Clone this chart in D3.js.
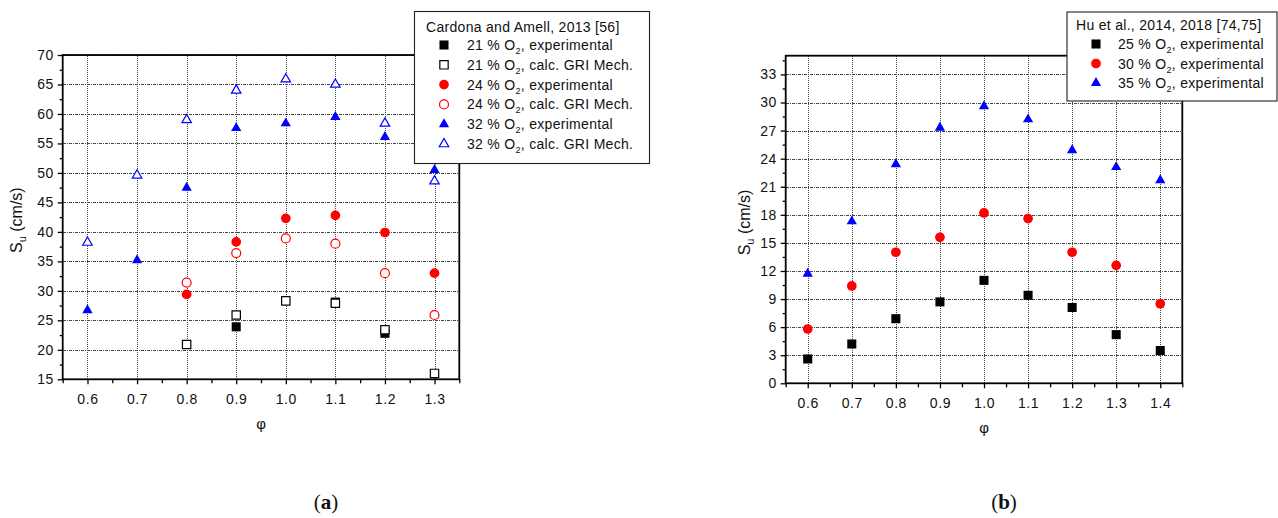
<!DOCTYPE html>
<html>
<head>
<meta charset="utf-8">
<script src="https://cdn.jsdelivr.net/npm/d3@7"></script>
<style>
  html, body { margin: 0; padding: 0; background: #fff; }
  svg { display: block; }
  text { font-family: "Liberation Sans", Arial, sans-serif; fill: #111; }
</style>
</head>
<body>
<svg id="fig" width="1278" height="518"></svg>
<script>
// ---- Panel (a): Cardona and Amell, 2013 ----
const phiA = [0.6, 0.7, 0.8, 0.9, 1.0, 1.1, 1.2, 1.3];
const o21ExpA  = [null, null, null, 23.9, null, 28.1, 22.8, null];
const o21CalcA = [null, null, 20.9, 25.9, 28.3, 27.9, 23.4, 16.0];
const o24ExpA  = [null, null, 29.4, 38.3, 42.3, 42.8, 39.9, 33.0];
const o24CalcA = [null, null, 31.4, 36.4, 38.9, 38.0, 33.0, 25.9];
const o32ExpA  = [26.7, 35.2, 47.5, 57.6, 58.4, 59.5, 56.1, 50.5];
const o32CalcA = [38.2, 49.6, 59.0, 64.0, 65.9, 65.0, 58.4, 48.6];
const legendTitleA = "Cardona and Amell, 2013 [56]";
const legendPctA = ["21", "21", "24", "24", "32", "32"];
const legendTailA = [", experimental", ", calc. GRI Mech.", ", experimental", ", calc. GRI Mech.", ", experimental", ", calc. GRI Mech."];
const yTicksA = [15, 20, 25, 30, 35, 40, 45, 50, 55, 60, 65, 70];

// ---- Panel (b): Hu et al., 2014, 2018 ----
const phiB = [0.6, 0.7, 0.8, 0.9, 1.0, 1.1, 1.2, 1.3, 1.4];
const o25B = [2.6, 4.2, 6.9, 8.7, 11.0, 9.4, 8.1, 5.2, 3.5];
const o30B = [5.8, 10.4, 14.0, 15.6, 18.2, 17.6, 14.0, 12.6, 8.5];
const o35B = [11.7, 17.3, 23.4, 27.3, 29.6, 28.2, 24.9, 23.1, 21.7];
const legendTitleB = "Hu et al., 2014, 2018 [74,75]";
const legendPctB = ["25", "30", "35"];
const legendTailB = [", experimental", ", experimental", ", experimental"];
const yTicksB = [0, 3, 6, 9, 12, 15, 18, 21, 24, 27, 30, 33];

const svg = d3.select("#fig");
const BLUE = "#0000ff", RED = "#ff0000", BLACK = "#000000";

const MARK = {
  sq:  { type: d3.symbolSquare,   size: 82 },
  ci:  { type: d3.symbolCircle,   size: 74 },
  tr:  { type: d3.symbolTriangle, size: 46 }
};
function symbolPath(shape, open) {
  const m = MARK[shape];
  const s = open ? m.size * 0.85 : m.size;
  return d3.symbol().type(m.type).size(s)();
}

// grid line: grey dashes with darker dots between them
function styleGrid(sel, dash) {
  sel.attr("stroke", "#444").attr("stroke-width", 1)
    .attr("stroke-dasharray", dash).attr("shape-rendering", "crispEdges");
}

function drawPanel(cfg) {
  const g = svg.append("g");
  const x = d3.scaleLinear().domain(cfg.xDomain).range([cfg.left, cfg.right]);
  const y = d3.scaleLinear().domain(cfg.yDomain).range([cfg.bottom, cfg.top]);
  const w = cfg.right - cfg.left, h = cfg.bottom - cfg.top;

  // grid
  g.append("g").attr("transform", `translate(0,${cfg.bottom})`)
    .call(d3.axisBottom(x).tickValues(cfg.xTicks).tickSize(-h).tickFormat(""))
    .call(a => a.select(".domain").remove())
    .selectAll("line").call(styleGrid, cfg.vDash);
  g.append("g").attr("transform", `translate(${cfg.left},0)`)
    .call(d3.axisLeft(y).tickValues(cfg.yTicks).tickSize(-w).tickFormat(""))
    .call(a => a.select(".domain").remove())
    .selectAll("line").call(styleGrid, cfg.hDash);

  // minor ticks
  g.append("g").attr("transform", `translate(0,${cfg.bottom})`)
    .call(d3.axisBottom(x).tickValues(cfg.xMinor).tickSize(4).tickFormat(""))
    .call(a => a.select(".domain").remove())
    .selectAll("line").attr("stroke", "#000").attr("stroke-width", 1.3);
  g.append("g").attr("transform", `translate(${cfg.left},0)`)
    .call(d3.axisLeft(y).tickValues(cfg.yMinor).tickSize(3).tickFormat(""))
    .call(a => a.select(".domain").remove())
    .selectAll("line").attr("stroke", "#000").attr("stroke-width", 1.3);

  // major ticks + labels
  const xa = g.append("g").attr("transform", `translate(0,${cfg.bottom})`)
    .call(d3.axisBottom(x).tickValues(cfg.xTicks).tickSize(5).tickPadding(10).tickFormat(d3.format(".1f")));
  xa.select(".domain").remove();
  xa.selectAll("line").attr("stroke", "#000").attr("stroke-width", 1.3);
  xa.selectAll("text").attr("font-size", 14).attr("letter-spacing", 0.6)
    .attr("font-family", "Liberation Sans, Arial, sans-serif").attr("fill", "#111");

  const ya = g.append("g").attr("transform", `translate(${cfg.left},0)`)
    .call(d3.axisLeft(y).tickValues(cfg.yTicks).tickSize(5).tickPadding(4));
  ya.select(".domain").remove();
  ya.selectAll("line").attr("stroke", "#000").attr("stroke-width", 1.3);
  ya.selectAll("text").attr("font-size", 14).attr("letter-spacing", 0.4)
    .attr("font-family", "Liberation Sans, Arial, sans-serif").attr("fill", "#111");

  // frame
  g.append("rect").attr("x", cfg.left).attr("y", cfg.top).attr("width", w).attr("height", h)
    .attr("fill", "none").attr("stroke", "#000").attr("stroke-width", 1.8);

  // series
  cfg.series.forEach(s => {
    const pts = cfg.phi.map((p, i) => [p, s.values[i]]).filter(d => d[1] != null);
    g.append("g").selectAll("path").data(pts).join("path")
      .attr("d", symbolPath(s.shape, s.open))
      .attr("transform", d => `translate(${x(d[0])},${y(d[1])})`)
      .attr("fill", s.open ? "#fff" : s.color)
      .attr("stroke", s.color)
      .attr("stroke-width", s.open ? 1.2 : 0);
  });

  // axis titles
  const yl = g.append("text")
    .attr("transform", `translate(${cfg.yTitleX},${(cfg.top + cfg.bottom) / 2 + 3}) rotate(-90)`)
    .attr("text-anchor", "middle").attr("font-size", 16);
  yl.append("tspan").text("S");
  yl.append("tspan").attr("font-size", 11).attr("dy", 4).text("u");
  yl.append("tspan").attr("dy", -4).text(" (cm/s)");

  g.append("text").attr("x", x((cfg.xDomain[0] + cfg.xDomain[1]) / 2))
    .attr("y", cfg.bottom + 50).attr("text-anchor", "middle").attr("font-size", 15)
    .text("φ");

  // legend
  const L = cfg.legend;
  const lg = g.append("g");
  lg.append("rect").attr("x", L.x0).attr("y", L.y0).attr("width", L.x1 - L.x0).attr("height", L.y1 - L.y0)
    .attr("fill", "#fff").attr("stroke", "#222").attr("stroke-width", 1.1);
  lg.append("text").attr("x", L.titleX).attr("y", L.titleY).attr("font-size", 14)
    .attr("letter-spacing", 0.3).text(L.title);
  cfg.series.forEach((s, i) => {
    const cy = L.rowY0 + i * L.rowStep;
    lg.append("path").attr("d", symbolPath(s.shape, s.open))
      .attr("transform", `translate(${L.symX},${cy})`)
      .attr("fill", s.open ? "#fff" : s.color).attr("stroke", s.color)
      .attr("stroke-width", s.open ? 1.2 : 0);
    const t = lg.append("text").attr("x", L.textX).attr("y", cy + 5).attr("font-size", 14)
      .attr("letter-spacing", 0.3);
    t.append("tspan").text(L.pct[i] + " % O");
    t.append("tspan").attr("font-size", 9).attr("dy", 4).text("2");
    t.append("tspan").attr("dy", -4).text(L.tail[i]);
  });

  // panel tag
  const tag = svg.append("text").attr("x", cfg.tagX).attr("y", 509).attr("text-anchor", "middle")
    .attr("font-size", 21)
    .style("font-family", "'Liberation Serif', 'Times New Roman', serif");
  tag.append("tspan").text("(");
  tag.append("tspan").attr("font-weight", "bold").text(cfg.tag);
  tag.append("tspan").text(")");
}

const range = (a, b, step) => d3.range(Math.round((b - a) / step) + 1).map(i => +(a + i * step).toFixed(3));

drawPanel({
  left: 62.7, right: 459.3, top: 55, bottom: 379.3,
  xDomain: [0.55, 1.35], yDomain: [15, 70],
  xTicks: phiA, xMinor: range(0.55, 1.35, 0.1),
  yTicks: yTicksA, yMinor: range(17.5, 67.5, 5),
  hDash: "3,1,1,1", vDash: "1,1",
  phi: phiA,
  yTitleX: 22,
  series: [
    { values: o21ExpA,  shape: "sq", color: BLACK, open: false },
    { values: o21CalcA, shape: "sq", color: BLACK, open: true },
    { values: o24ExpA,  shape: "ci", color: RED,   open: false },
    { values: o24CalcA, shape: "ci", color: RED,   open: true },
    { values: o32ExpA,  shape: "tr", color: BLUE,  open: false },
    { values: o32CalcA, shape: "tr", color: BLUE,  open: true }
  ],
  legend: {
    x0: 414.5, y0: 11.5, x1: 649.5, y1: 163.5,
    title: legendTitleA, titleX: 426, titleY: 32,
    pct: legendPctA, tail: legendTailA,
    symX: 444, textX: 467, rowY0: 45, rowStep: 19.8
  },
  tag: "a", tagX: 326
});

drawPanel({
  left: 785.7, right: 1182.3, top: 55.7, bottom: 383.3,
  xDomain: [0.55, 1.45], yDomain: [0, 35],
  xTicks: phiB, xMinor: range(0.55, 1.45, 0.1),
  yTicks: yTicksB, yMinor: range(1.5, 34.5, 3),
  hDash: "3,1,1,1", vDash: "1,1",
  phi: phiB,
  yTitleX: 750,
  series: [
    { values: o25B, shape: "sq", color: BLACK, open: false },
    { values: o30B, shape: "ci", color: RED,   open: false },
    { values: o35B, shape: "tr", color: BLUE,  open: false }
  ],
  legend: {
    x0: 1067, y0: 12, x1: 1277, y1: 101,
    title: legendTitleB, titleX: 1076, titleY: 30,
    pct: legendPctB, tail: legendTailB,
    symX: 1096, textX: 1118, rowY0: 44, rowStep: 19.5
  },
  tag: "b", tagX: 1004
});
</script>
</body>
</html>
